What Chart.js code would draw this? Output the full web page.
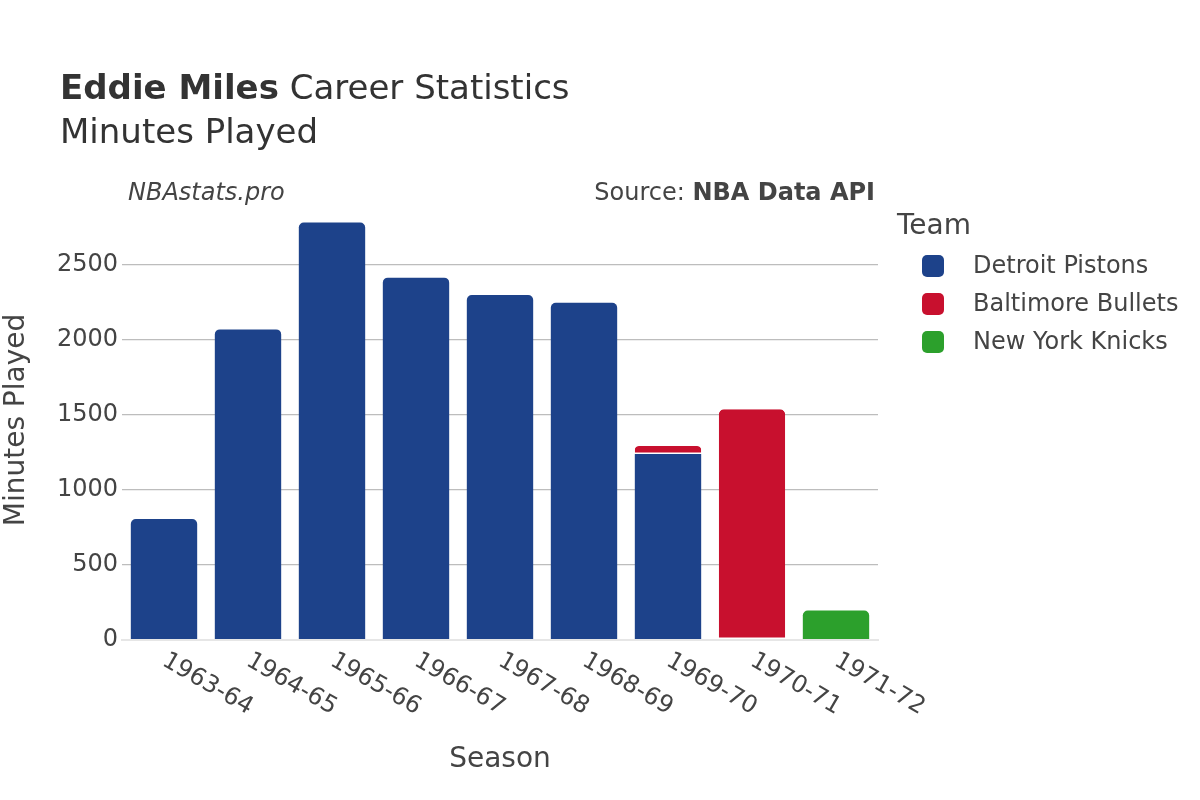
<!DOCTYPE html>
<html>
<head>
<meta charset="utf-8">
<script src="https://cdn.jsdelivr.net/npm/chart.js@4"></script>
<style>
  html, body { margin: 0; padding: 0; background: #fff; }
  #wrap { width: 1200px; height: 800px; }
</style>
</head>
<body>
<div id="wrap"><canvas id="minutesChart" width="1200" height="800"></canvas></div>
<script>
// Data
const seasons = ['1963-64', '1964-65', '1965-66', '1966-67', '1967-68', '1968-69', '1969-70', '1970-71', '1971-72'];
const detroitMinutes = [807, 2071, 2784, 2416, 2300, 2249, 1240, null, null];
const baltimoreMinutes = [null, null, null, null, null, null, 53, 1538, null];
const knicksMinutes = [null, null, null, null, null, null, null, null, 196];
const teamNames = ['Detroit Pistons', 'Baltimore Bullets', 'New York Knicks'];
const teamColors = ['#1d428a', '#c8102e', '#2ca02c'];
const yTicks = [0, 500, 1000, 1500, 2000, 2500];
const yMax = 2867;

const FONT = '"DejaVu Sans", Verdana, sans-serif';
const TEXT = '#444';

// Titles, source line, rotated x labels, axis titles and legend
const decorations = {
    id: 'decorations',
    afterDraw(chart) {
        const ctx = chart.ctx;
        const area = chart.chartArea;
        const xScale = chart.scales.x;
        ctx.save();
        ctx.fillStyle = '#333';
        ctx.textBaseline = 'alphabetic';
        ctx.textAlign = 'left';

        // title
        ctx.font = 'bold 34px ' + FONT;
        ctx.fillText('Eddie Miles', 60, 99);
        const w = ctx.measureText('Eddie Miles').width;
        ctx.font = '34px ' + FONT;
        ctx.fillText(' Career Statistics', 60 + w, 99);
        ctx.fillText('Minutes Played', 60, 143);

        // watermark + source
        ctx.fillStyle = TEXT;
        ctx.font = 'italic 24px ' + FONT;
        ctx.fillText('NBAstats.pro', 128, 200);
        ctx.textAlign = 'right';
        ctx.font = 'bold 24px ' + FONT;
        ctx.fillText('NBA Data API', 875, 200);
        const bw = ctx.measureText('NBA Data API').width;
        ctx.font = '24px ' + FONT;
        ctx.fillText('Source: ', 875 - bw, 200);

        // x tick labels, rotated clockwise
        ctx.font = '24px ' + FONT;
        ctx.textAlign = 'left';
        ctx.textBaseline = 'middle';
        seasons.forEach((s, i) => {
            const x = xScale.getPixelForTick(i);
            ctx.save();
            ctx.translate(x, area.bottom + 19);
            ctx.rotate(Math.PI / 6);
            ctx.fillText(s, 0, 0);
            ctx.restore();
        });

        // axis titles
        ctx.font = '28px ' + FONT;
        ctx.textAlign = 'center';
        ctx.textBaseline = 'middle';
        ctx.fillText('Season', (area.left + area.right) / 2, 760);
        ctx.save();
        ctx.translate(17, 420);
        ctx.rotate(-Math.PI / 2);
        ctx.fillText('Minutes Played', 0, 0);
        ctx.restore();

        // legend
        ctx.textAlign = 'left';
        ctx.font = '28px ' + FONT;
        ctx.fillText('Team', 897, 227);
        ctx.font = '24px ' + FONT;
        teamNames.forEach((name, i) => {
            const cy = 266 + i * 38;
            ctx.fillStyle = teamColors[i];
            ctx.beginPath();
            ctx.roundRect(922, cy - 11, 22, 22, 5);
            ctx.fill();
            ctx.fillStyle = TEXT;
            ctx.fillText(name, 973, cy + 1);
        });
        ctx.restore();
    }
};

const createMinutesChart = () => {
    const ctx = document.getElementById('minutesChart').getContext('2d');
    const datasets = [detroitMinutes, baltimoreMinutes, knicksMinutes].map((vals, i) => ({
        label: teamNames[i],
        data: vals,
        backgroundColor: teamColors[i],
        borderColor: '#fff',
        // thin white seam where Baltimore sits on top of Detroit
        borderWidth: i === 1 ? { top: 0, right: 0, bottom: 1.5, left: 0 } : 0,
        borderRadius: i === 1 ? { topLeft: 5, topRight: 5, bottomLeft: 0, bottomRight: 0 } : 5,
        borderSkipped: i === 1 ? false : 'bottom',
        barPercentage: 0.79,
        categoryPercentage: 1.0
    }));

    new Chart(ctx, {
        type: 'bar',
        data: { labels: seasons, datasets },
        options: {
            responsive: false,
            animation: false,
            layout: { padding: { left: 42, right: 322, top: 210, bottom: 0 } },
            plugins: {
                legend: { display: false },
                title: { display: false },
                tooltip: { enabled: false }
            },
            scales: {
                x: {
                    stacked: true,
                    offset: true,
                    grid: { display: false },
                    border: { display: true, color: '#e6e6e6', width: 2 },
                    ticks: { display: false },
                    afterFit: (scale) => { scale.height = 160; }
                },
                y: {
                    stacked: true,
                    min: 0,
                    max: yMax,
                    border: { display: false },
                    grid: {
                        drawTicks: false,
                        color: (c) => c.tick && c.tick.value === 0 ? '#e6e6e6' : '#bdbdbd',
                        lineWidth: (c) => c.tick && c.tick.value === 0 ? 2 : 1.2
                    },
                    ticks: {
                        autoSkip: false,
                        padding: 4,
                        color: TEXT,
                        font: { family: FONT, size: 24 },
                        callback: (v) => String(v)
                    },
                    afterBuildTicks: (axis) => {
                        axis.ticks = yTicks.map(v => ({ value: v }));
                    },
                    afterFit: (scale) => { scale.width = 80; }
                }
            }
        },
        plugins: [decorations]
    });
};

createMinutesChart();
</script>
</body>
</html>
